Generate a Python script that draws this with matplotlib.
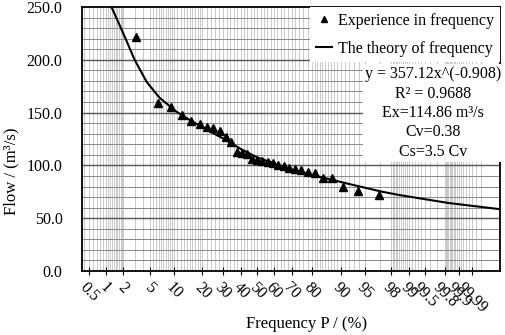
import numpy as np
import matplotlib
matplotlib.use("Agg")
import matplotlib.pyplot as plt
from statistics import NormalDist

# observed flows and their empirical frequency (%)
freq_obs = [3.1, 6.3, 9.4, 12.5, 15.6, 18.8, 21.9, 25.0, 28.1, 31.3, 34.4,
            37.5, 40.6, 43.8, 46.9, 50.0, 53.1, 56.3, 59.4, 62.5, 65.6, 68.8,
            71.9, 75.0, 78.1, 81.3, 84.4, 87.5, 90.6, 93.8, 96.9]
flow_obs = [222, 159.5, 155.5, 147.5, 142, 139.5, 136.5, 135, 133, 126.5, 122.5,
            113, 111.5, 110.5, 106, 105, 104.5, 103.5, 102, 100.5, 99, 98,
            96.5, 95.5, 94, 92.5, 88.5, 88, 79.5, 76, 72]

# theoretical frequency curve
freq_fit = [1.27, 2.1, 3.0, 4.5, 6.7, 10.7, 15, 22.7, 32, 40, 50, 60, 69,
            81.6, 92, 97.2, 98.5, 99.83, 99.989]
flow_fit = [250, 222, 200, 179, 164, 151, 143, 133, 123.5, 115.5, 107.5, 102,
            96.5, 90, 82.4, 75.1, 72, 64.4, 58.7]

tick_freq = [0.5, 1, 2, 5, 10, 20, 30, 40, 50, 60, 70, 80, 90, 95, 98, 99,
             99.5, 99.8, 99.9, 99.95]
tick_labels = ["0.5", "1", "2", "5", "10", "20", "30", "40", "50", "60", "70",
               "80", "90", "95", "98", "99", "99.5", "99.8", "99.9", "99.99"]

stats_text = "y = 357.12x^(-0.908)\nR² = 0.9688\nEx=114.86 m³/s\nCv=0.38\nCs=3.5 Cv"

nd = NormalDist()


def prob(p):
    return np.array([nd.inv_cdf(v / 100.0) for v in np.atleast_1d(p)])


plt.rcParams['font.family'] = ['Liberation Serif', 'DejaVu Serif']
fig = plt.figure(figsize=(5.05, 3.35), dpi=100)
ax = fig.add_axes([82 / 505, 64 / 335, 418 / 505, 264 / 335])

# probability paper grid
grid_p = np.concatenate([
    np.arange(0.4, 2.0, 0.1), [2, 3, 4], np.arange(5, 10, 0.5),
    np.arange(10, 20, 1), np.arange(20, 80, 2), np.arange(80, 90, 1),
    np.arange(90, 96, 1), [97], np.arange(98, 99.75, 0.1), [99.8],
    np.arange(99.81, 99.975, 0.01)])
for gx in prob(grid_p):
    ax.axvline(gx, color='#b5b5b5', lw=0.5, zorder=0)
for gy in range(10, 250, 10):
    major = gy % 50 == 0
    ax.axhline(gy, color='#555555' if major else '#888888',
               lw=1.0 if major else 0.7, zorder=0.5)

ax.plot(prob(freq_obs), flow_obs, linestyle='none', marker='^', ms=5.5,
        color='black', label='Experience in frequency', zorder=3)
ax.plot(prob(freq_fit), flow_fit, color='black', lw=1.5,
        label='The theory of frequency', zorder=2)

ax.set_xlim(prob(0.36)[0], prob(99.99)[0])
ax.set_ylim(0, 250)
ax.set_yticks(range(0, 251, 50))
ax.set_yticklabels([f"{v:.1f}" for v in range(0, 251, 50)], fontsize=11.5)
ax.set_xticks(prob(tick_freq))
ax.set_xticklabels(tick_labels, rotation=-45, ha='center', fontsize=11.5)
ax.tick_params(axis='x', direction='inout', length=6, width=0.8, pad=3)
ax.tick_params(axis='y', length=0, pad=14)
for s in ax.spines.values():
    s.set_linewidth(1.3)
    s.set_color('black')

ax.set_xlabel("Frequency P / (%)", fontsize=12)
ax.set_ylabel("Flow / (m³/s)", fontsize=12)
ax.xaxis.set_label_coords(0.538, -0.172)
ax.yaxis.set_label_coords(-0.15, 0.379)

leg = ax.legend(loc='upper right', bbox_to_anchor=(1.0, 1.0), fontsize=11.5,
                frameon=True, fancybox=False, framealpha=1, edgecolor='none',
                handlelength=1.0, handletextpad=0.4, labelspacing=0.75,
                borderpad=0.35, borderaxespad=0, markerscale=0.8)
leg.get_frame().set_facecolor('white')

ax.text(0.84, 0.775, stats_text, transform=ax.transAxes, ha='center', va='top',
        fontsize=11.5, linespacing=1.28, zorder=4,
        bbox=dict(boxstyle='square,pad=0.15', fc='white', ec='none'))

fig.savefig("out.png", dpi=100)
